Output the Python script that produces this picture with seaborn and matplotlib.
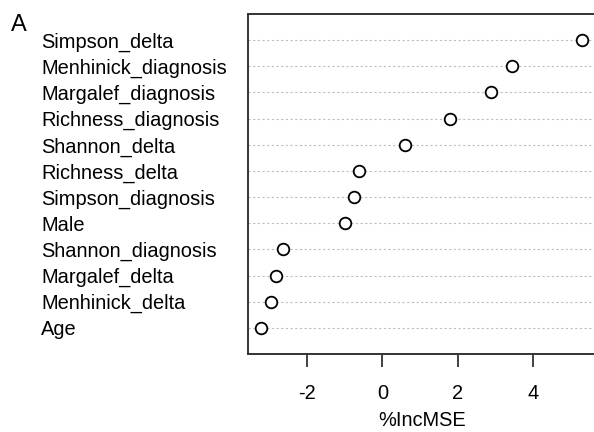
import numpy as np
import pandas as pd
import matplotlib
matplotlib.use("Agg")
import matplotlib.pyplot as plt
from matplotlib.lines import Line2D
import seaborn as sns

# variable importance (%IncMSE), top to bottom as drawn
variables = ["Simpson_delta", "Menhinick_diagnosis", "Margalef_diagnosis",
             "Richness_diagnosis", "Shannon_delta", "Richness_delta",
             "Simpson_diagnosis", "Male", "Shannon_diagnosis",
             "Margalef_delta", "Menhinick_delta", "Age"]
inc_mse = [5.30, 3.44, 2.88, 1.79, 0.60, -0.63,
           -0.75, -0.99, -2.64, -2.82, -2.94, -3.21]
xticks = [-2, 0, 2, 4]

sns.set_style("ticks", {'text.color': 'black', 'xtick.color': 'black',
                        'ytick.color': 'black', 'axes.labelcolor': 'black'})
plt.rcParams['font.family'] = ['Liberation Sans', 'DejaVu Sans']

n = len(variables)
df = pd.DataFrame({'var': variables, 'imp': inc_mse,
                   'pos': np.arange(n, 0, -1)})

fig = plt.figure(figsize=(5.94, 4.32), dpi=100)
ax = fig.add_axes([248/594, 1 - 354/432, 348/594, 340/432])

# dotted guide lines like R dotchart
for p in df['pos']:
    ax.axhline(p, color='#bdbdbd', lw=0.8, ls=(0, (2, 2.2)), zorder=1)

sns.scatterplot(data=df, x='imp', y='pos', ax=ax, marker='o', s=70,
                facecolor='white', edgecolor='black', linewidth=1.3, zorder=3)

ax.set_xlim(-3.56, 5.66)
ax.set_ylim(0, n + 1)
ax.set_xticks(xticks)
ax.set_xticklabels([str(t) for t in xticks], fontsize=14.4, color='black')
ax.set_yticks(df['pos'])
ax.set_yticklabels(df['var'], fontsize=14.4, color='black')
for lab in ax.get_yticklabels():
    lab.set_horizontalalignment('left')
ax.tick_params(axis='y', length=0, pad=149)
ax.tick_params(axis='x', length=0, pad=21.5)

# R-style tick marks below the box, placed in figure coords from the x scale
fig.canvas.draw()
inv = fig.transFigure.inverted()
bottom = ax.get_position().y0
for t in xticks:
    xd = ax.transData.transform((t, 0))[0]
    xf = inv.transform((xd, 0))[0]
    fig.add_artist(Line2D([xf, xf], [bottom, bottom - 13/432],
                          transform=fig.transFigure, color='#333333',
                          lw=1.3, solid_capstyle='butt', zorder=10))

ax.set_xlabel('%IncMSE', fontsize=14.4, labelpad=6, color='black')
ax.set_ylabel('')
for s in ax.spines.values():
    s.set_color('#333333')
    s.set_linewidth(1.4)
ax.spines['right'].set_visible(False)

fig.text(11/594, 1 - 31/432, 'A', fontsize=17, ha='left', va='baseline',
         color='black')

fig.savefig('out.png', dpi=100)
